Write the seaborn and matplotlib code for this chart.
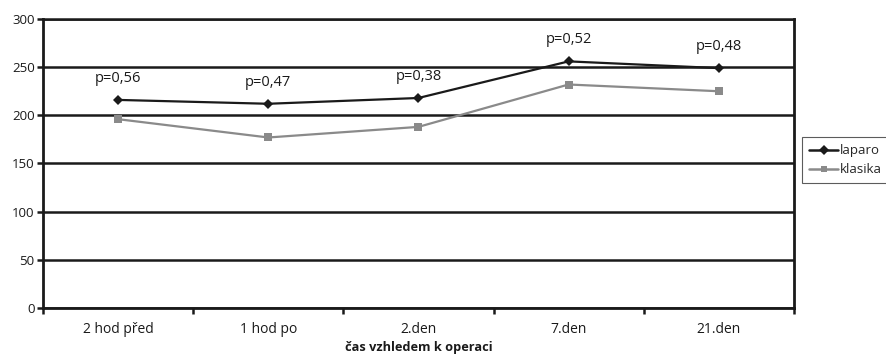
import matplotlib
matplotlib.use("Agg")
import matplotlib.pyplot as plt
import seaborn as sns
import pandas as pd
from matplotlib.ticker import FixedLocator, NullFormatter
from matplotlib.lines import Line2D

# Measurements over time for two surgical approaches
categories = ["2 hod před", "1 hod po", "2.den", "7.den", "21.den"]
laparo = [216, 212, 218, 256, 249]
klasika = [196, 177, 188, 232, 225]
p_values = ["p=0,56", "p=0,47", "p=0,38", "p=0,52", "p=0,48"]
series_names = ["laparo", "klasika"]

df = pd.DataFrame({
    "x": list(range(len(categories))) * 2,
    "value": laparo + klasika,
    "series": [series_names[0]] * len(laparo) + [series_names[1]] * len(klasika),
})

sns.set_theme(style="white")
plt.rcParams["font.family"] = ["Open Sans", "DejaVu Sans"]

fig = plt.figure(figsize=(8.86, 3.55), dpi=100)
ax = fig.add_axes([0.0485, 0.1324, 0.8475, 0.8141])

palette = {"laparo": "#1a1a1a", "klasika": "#8a8a8a"}
markers = {"laparo": "D", "klasika": "s"}
sns.lineplot(data=df, x="x", y="value", hue="series", style="series",
             palette=palette, markers=markers, dashes=False,
             markersize=5.5, linewidth=1.6, markeredgewidth=0, ax=ax, legend=False)

# p-value annotations above the laparo series
for i, (v, txt) in enumerate(zip(laparo, p_values)):
    ax.annotate(txt, (i, v), xytext=(0, 15.5), textcoords="offset points",
                ha="center", va="center", fontsize=10.5, color="#1a1a1a")

ax.set_xlim(-0.5, len(categories) - 0.5)
ax.set_ylim(0, 300)
ax.set_yticks(range(0, 301, 50))
ax.yaxis.grid(True, color="#1a1a1a", linewidth=1.8)
ax.set_axisbelow(True)

ax.set_xticks(range(len(categories)))
ax.set_xticklabels(categories, fontsize=10)
ax.xaxis.set_minor_locator(FixedLocator([i - 0.5 for i in range(len(categories) + 1)]))
ax.xaxis.set_minor_formatter(NullFormatter())
ax.tick_params(axis="x", which="major", length=0, pad=10, colors="#1a1a1a")
ax.tick_params(axis="x", which="minor", length=4, width=1.8, direction="out",
               color="#1a1a1a", bottom=True)
ax.tick_params(axis="y", which="major", length=4, width=1.8, direction="out",
               left=True, labelsize=9.5, pad=2, colors="#1a1a1a")

for side in ["left", "bottom", "right"]:
    ax.spines[side].set_visible(True)
    ax.spines[side].set_color("#1a1a1a")
    ax.spines[side].set_linewidth(2.0)
ax.spines["top"].set_visible(True)
ax.spines["top"].set_color("#1a1a1a")
ax.spines["top"].set_linewidth(1.8)

ax.set_xlabel("čas vzhledem k operaci", fontsize=9.2, fontweight="bold",
              color="#1a1a1a", labelpad=3)
ax.set_ylabel("")

# legend on the right, outside the plotting area
handles = [
    Line2D([], [], color=palette["laparo"], marker="D", markersize=5,
           linewidth=1.8, markeredgewidth=0),
    Line2D([], [], color=palette["klasika"], marker="s", markersize=5,
           linewidth=1.8, markeredgewidth=0),
]
leg = fig.legend(handles, series_names, loc="upper left",
                 bbox_to_anchor=(0.905, 0.614), fontsize=9.5, frameon=True,
                 fancybox=False, edgecolor="#333333", handlelength=2.2,
                 handletextpad=0.1, borderpad=0.55, labelspacing=0.45,
                 borderaxespad=0)
leg.get_frame().set_linewidth(0.8)

fig.savefig("out.png", dpi=100)
